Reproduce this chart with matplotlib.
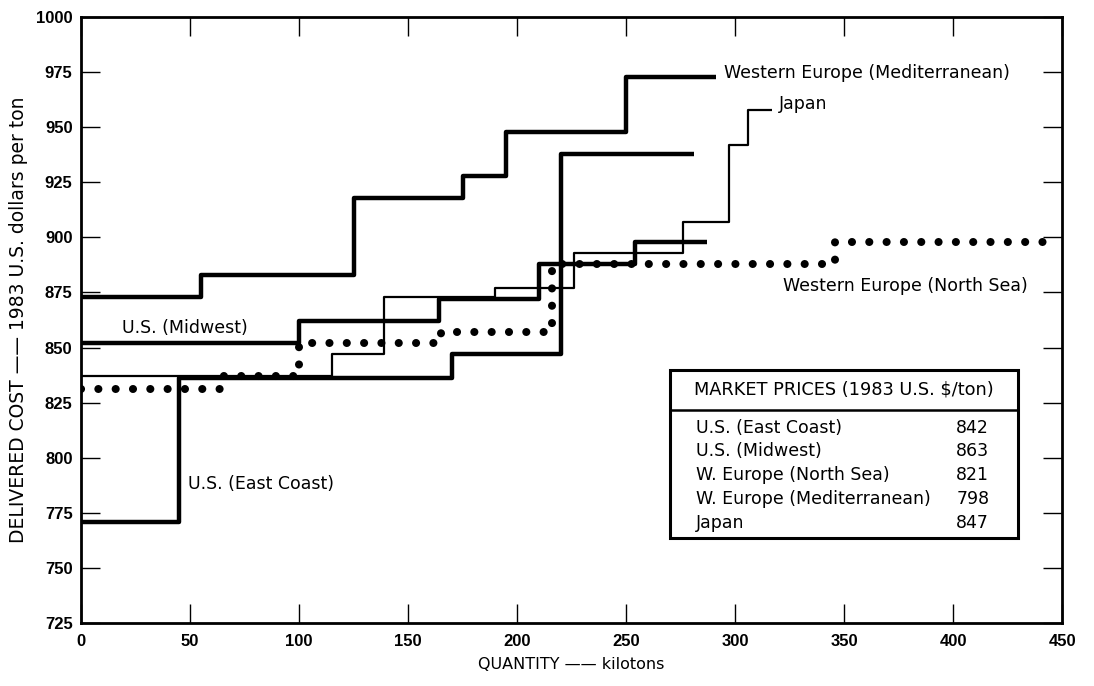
import matplotlib
matplotlib.use("Agg")
import matplotlib.pyplot as plt
from matplotlib.patches import Rectangle

plt.rcParams['font.family'] = ['DejaVu Sans']

# Step supply curves: quantity break points (kilotons) and delivered cost ($/ton)
med_edges = [0, 55, 125, 175, 195, 250, 291]
med_cost = [873, 883, 918, 928, 948, 973]

japan_edges = [0, 115, 139, 190, 226, 276, 297, 306, 317]
japan_cost = [837, 847, 873, 877, 893, 907, 942, 958]

midwest_edges = [0, 100, 164, 210, 254, 287]
midwest_cost = [852, 862, 872, 888, 898]

east_edges = [0, 45, 170, 220, 281]
east_cost = [771, 836, 847, 938]

north_edges = [0, 65, 100, 165, 216, 346, 444]
north_cost = [831, 837, 852, 857, 888, 898]

# Market price table
markets = ["U.S. (East Coast)", "U.S. (Midwest)", "W. Europe (North Sea)",
           "W. Europe (Mediterranean)", "Japan"]
prices = [842, 863, 821, 798, 847]

fig = plt.figure(figsize=(10.94, 6.86), dpi=100)
ax = fig.add_axes([0.074, 0.092, 0.897, 0.883])


def step(edges, cost, **kw):
    ax.step(edges, list(cost) + [cost[-1]], where='post', color='black', **kw)


step(med_edges, med_cost, lw=3.2, solid_capstyle='butt')
step(east_edges, east_cost, lw=3.2, solid_capstyle='butt')
step(midwest_edges, midwest_cost, lw=3.2, solid_capstyle='butt')
step(japan_edges, japan_cost, lw=1.6, solid_capstyle='butt')
step(north_edges, north_cost, lw=5.8, linestyle=(0, (0.01, 2.14)),
     dash_capstyle='round', zorder=4)

# curve labels
lab = dict(fontsize=12.5, va='center')
ax.text(295, 974.5, "Western Europe (Mediterranean)", **lab)
ax.text(320, 960.5, "Japan", **lab)
ax.text(322, 878, "Western Europe (North Sea)", **lab)
ax.text(19, 859, "U.S. (Midwest)", **lab)
ax.text(49, 788, "U.S. (East Coast)", **lab)

# market price box
bx0, bx1, by0, by1, sep = 0.600, 0.955, 0.140, 0.418, 0.352
ax.add_patch(Rectangle((bx0, by0), bx1 - bx0, by1 - by0, transform=ax.transAxes,
                       fill=True, facecolor='white', edgecolor='black', lw=2.2, zorder=5))
ax.plot([bx0, bx1], [sep, sep], transform=ax.transAxes, color='black', lw=1.8, zorder=6)
ax.text((bx0 + bx1) / 2, (sep + by1) / 2, "MARKET PRICES (1983 U.S. $/ton)",
        transform=ax.transAxes, ha='center', va='center', fontsize=12.8, zorder=6)
row_y = [0.3215, 0.2830, 0.2435, 0.2045, 0.1655]
for name, price, yy in zip(markets, prices, row_y):
    ax.text(0.627, yy, name, transform=ax.transAxes, va='center', fontsize=12.5, zorder=6)
    ax.text(0.892, yy, str(price), transform=ax.transAxes, va='center', fontsize=12.5, zorder=6)

ax.set_xlim(0, 450)
ax.set_ylim(725, 1000)
ax.set_xticks(range(0, 451, 50))
ax.set_yticks(range(725, 1001, 25))
ax.tick_params(direction='in', length=14, width=1, top=True, right=True,
               labelsize=12)
ax.tick_params(axis='x', pad=8)
ax.tick_params(axis='y', pad=6)
for lbl in ax.get_xticklabels() + ax.get_yticklabels():
    lbl.set_fontweight('bold')
    lbl.set_fontfamily('Liberation Sans')
for s in ax.spines.values():
    s.set_linewidth(2)

ax.set_xlabel("QUANTITY —— kilotons", fontsize=11.5, labelpad=6)
ax.set_ylabel("DELIVERED COST —— 1983 U.S. dollars per ton", fontsize=13.5, labelpad=6)

fig.savefig("out.png", dpi=100)
